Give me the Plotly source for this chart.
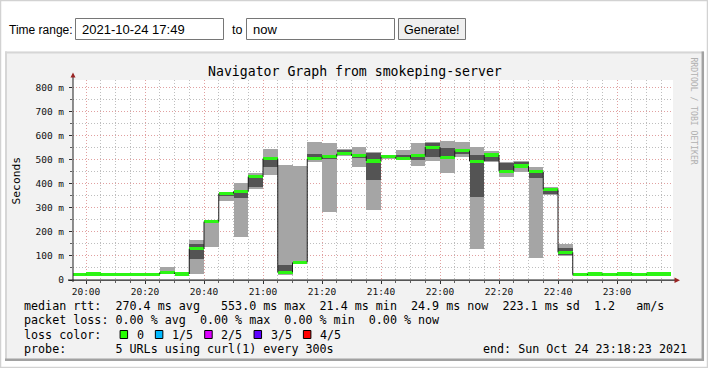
import plotly.graph_objects as go
import pandas as pd

# ---------------- data (ms) ----------------
day = "2021-10-24 "
slot_times = ["19:55", "20:00", "20:05", "20:10", "20:15", "20:20", "20:25", "20:30",
              "20:35", "20:40", "20:45", "20:50", "20:55", "21:00", "21:05", "21:10",
              "21:15", "21:20", "21:25", "21:30", "21:35", "21:40", "21:45", "21:50",
              "21:55", "22:00", "22:05", "22:10", "22:15", "22:20", "22:25", "22:30",
              "22:35", "22:40", "22:45", "22:50", "22:55", "23:00", "23:05", "23:10",
              "23:15"]
end_time = "23:18:23"

rtt_min = [21, 22, 21, 21, 21, 21, 27, 22, 25, 139, 330, 180, 380, 437, 21, 70,
           492, 284, 516, 469, 291, 504, 499, 474, 496, 446, 510, 128, 492, 430, 451, 93,
           355, 101, 19, 22, 20, 22, 20, 22, 22]
rtt_p2 = [23, 23, 23, 23, 23, 23, 28, 24, 89, 236, 349, 342, 386, 471, 26, 71,
          498, 505, 520, 508, 416, 508, 503, 499, 510, 507, 524, 347, 496, 444, 466, 423,
          357, 106, 20, 24, 22, 24, 22, 24, 24]
rtt_med = [24, 25, 24, 24, 24, 24, 31, 25, 130, 243, 360, 368, 430, 505, 32, 73,
           504, 513, 525, 517, 495, 512, 505, 518, 553, 511, 538, 494, 520, 452, 474, 451,
           377, 115, 21.4, 25, 23, 25, 23, 25, 24.9]
rtt_p4 = [25, 28, 25, 25, 25, 25, 35, 26, 148, 246, 364, 374, 434, 510, 62, 76,
          524, 522, 541, 524, 530, 516, 520, 522, 570, 550, 541, 519, 526, 488, 492, 458,
          383, 134, 23, 26, 24, 26, 24, 26, 26]
rtt_max = [27, 33, 27, 27, 27, 27, 54, 28, 166, 250, 367, 405, 446, 546, 478, 474,
           574, 569, 544, 553, 534, 520, 541, 569, 574, 579, 574, 553, 537, 490, 495, 472,
           388, 148, 25, 28, 26, 28, 26, 28, 28]

y_tick_vals = [0, 100, 200, 300, 400, 500, 600, 700, 800]
y_tick_text = ["0", "100 m", "200 m", "300 m", "400 m", "500 m", "600 m", "700 m", "800 m"]
y_minor_vals = [50, 150, 250, 350, 450, 550, 650, 750]
x_tick_text = ["20:00", "20:20", "20:40", "21:00", "21:20", "21:40", "22:00", "22:20",
               "22:40", "23:00"]

stats_rtt = ["270.4 ms avg", "553.0 ms max", "21.4 ms min", "24.9 ms now", "223.1 ms sd",
             "1.2", "am/s"]
stats_loss = ["0.00 % avg", "0.00 % max", "0.00 % min", "0.00 % now"]
loss_labels = ["0", "1/5", "2/5", "3/5", "4/5"]
loss_colors = ["#26ff00", "#00b8ff", "#dd00ff", "#5e00ff", "#ff0000"]
probe_text = "5 URLs using curl(1) every 300s"
end_text = "end: Sun Oct 24 23:18:23 2021"
title_text = "Navigator Graph from smokeping-server"

# ---------------- geometry ----------------
W, H = 708, 368
L, T, PW, PH = 73, 80, 600, 200
PX_PER_MIN = 2.95
X20 = 86  # pixel of 20:00


def px(x):
    return (x - L) / PW


def py(y):
    return 1 - (y - T) / PH


t20 = pd.Timestamp(day + "20:00")
x_range = [t20 - pd.Timedelta(minutes=(X20 - L) / PX_PER_MIN),
           t20 + pd.Timedelta(minutes=(L + PW - X20) / PX_PER_MIN)]

starts = [pd.Timestamp(day + t) for t in slot_times]
ends = starts[1:] + [pd.Timestamp(day + end_time)]
centers = [s + (e - s) / 2 for s, e in zip(starts, ends)]
widths = [(e - s).total_seconds() * 1000 for s, e in zip(starts, ends)]
x_ticks = [pd.Timestamp(day + t) for t in x_tick_text]

LIGHT = "#a5a5a5"
DARK = "#545454"
GREEN = "#2cf514"
D = 6.5  # half thickness of loss-colour band (ms)

fig = go.Figure()
fig.add_trace(go.Bar(x=centers, base=rtt_min, y=[b - a for a, b in zip(rtt_min, rtt_max)],
                     width=widths, marker=dict(color=LIGHT, line=dict(width=0)),
                     hoverinfo="skip"))
fig.add_trace(go.Bar(x=centers, base=rtt_p2, y=[b - a for a, b in zip(rtt_p2, rtt_p4)],
                     width=widths, marker=dict(color=DARK, line=dict(width=0)),
                     hoverinfo="skip"))
fig.add_trace(go.Bar(x=centers, base=[m - D for m in rtt_med], y=[2 * D] * len(rtt_med),
                     width=widths, marker=dict(color=GREEN, line=dict(width=0)),
                     hoverinfo="skip"))
# vertical connectors of the median step line (horizontal parts lie under the green band)
step_x, step_y = [], []
for i in range(1, len(starts)):
    step_x += [starts[i], starts[i], None]
    step_y += [rtt_med[i - 1], rtt_med[i], None]
fig.add_trace(go.Scatter(x=step_x, y=step_y, mode="lines", connectgaps=False,
                         line=dict(color="#1e1e1e", width=1), hoverinfo="skip"))

MONO = "DejaVu Sans Mono, monospace"
SANS = "Liberation Sans, Arial, sans-serif"
MAJ = "rgba(225,160,160,1)"
MIN = "rgba(190,190,190,1)"
DOTS = "1px,2px"

fig.update_layout(
    width=W, height=H, margin=dict(l=L, r=W - L - PW, t=T, b=H - T - PH, pad=0),
    paper_bgcolor="white", plot_bgcolor="white", showlegend=False,
    barmode="overlay", bargap=0,
    xaxis=dict(type="date", range=x_range, tickmode="array", tickvals=x_ticks,
               ticktext=x_tick_text, showgrid=True, gridcolor=MAJ, griddash=DOTS,
               gridwidth=1, zeroline=False, showline=False, ticks="outside", ticklen=3,
               tickcolor="#303030", tickfont=dict(family=MONO, size=9.5, color="#111"),
               minor=dict(tickmode="array", tickvals=starts, showgrid=True, gridcolor=MIN,
                          griddash=DOTS, gridwidth=1, ticks="outside", ticklen=2,
                          tickcolor="#606060"),
               fixedrange=True),
    yaxis=dict(range=[0, PH * 100 / 24.04], tickmode="array", tickvals=y_tick_vals,
               ticktext=y_tick_text, showgrid=True, gridcolor=MAJ, griddash=DOTS,
               gridwidth=1, zeroline=False, showline=False, ticks="outside", ticklen=3,
               tickcolor="#303030", tickfont=dict(family=MONO, size=9.5, color="#111"),
               ticklabelstandoff=3,
               minor=dict(tickmode="array", tickvals=y_minor_vals, showgrid=True,
                          gridcolor=MIN, griddash=DOTS, gridwidth=1, ticks="outside",
                          ticklen=2, tickcolor="#606060"),
               fixedrange=True),
)

shapes = []


def rect(x0, y0, x1, y1, fill=None, line=None, lw=1, layer="below"):
    shapes.append(dict(type="rect", xref="paper", yref="paper", x0=px(x0), x1=px(x1),
                       y0=py(y0), y1=py(y1), fillcolor=fill or "rgba(0,0,0,0)",
                       line=dict(color=line or "rgba(0,0,0,0)", width=lw if line else 0),
                       layer=layer))


def seg(x0, y0, x1, y1, color, lw=1, layer="above"):
    shapes.append(dict(type="line", xref="paper", yref="paper", x0=px(x0), x1=px(x1),
                       y0=py(y0), y1=py(y1), line=dict(color=color, width=lw), layer=layer))


def tri(pts, color):
    path = "M " + " L ".join(f"{px(a)},{py(b)}" for a, b in pts) + " Z"
    shapes.append(dict(type="path", xref="paper", yref="paper", path=path,
                       fillcolor=color, line=dict(width=0), layer="above"))


# page border
rect(0.5, 0.5, 707.5, 367.5, line="#d2d2d2", lw=1.5)
# graph image background and frame
rect(5, 51.5, 704, 361, fill="#f2f2f2")
seg(5, 52.5, 704, 52.5, "#d6d6d6", 2, "below")
seg(6, 51.5, 6, 361, "#d6d6d6", 2, "below")
seg(702.8, 51.5, 702.8, 361, "#a2a2a2", 2.5, "below")
seg(5, 359.8, 704, 359.8, "#a2a2a2", 2.5, "below")
# canvas
rect(L, T, L + PW, T + PH, fill="white")
# axes
seg(73, 282, 73, 77, "#202020", 1)
seg(68, 280.2, 675, 280.2, "#202020", 1.2)
tri([(70.5, 77.5), (75.5, 77.5), (73, 72.5)], "#9a2424")
tri([(674.5, 277.5), (674.5, 283), (680, 280.2)], "#9a2424")

# form elements
rect(75.5, 18.5, 223.5, 39.5, fill="white", line="#767676", lw=1)
rect(246.5, 18.5, 394.5, 39.5, fill="white", line="#767676", lw=1)
rect(398.5, 18.5, 465.5, 39.5, fill="#efefef", line="#767676", lw=1)

annotations = []


def text(x, y, s, size, family=MONO, xanchor="left", color="#000", angle=0):
    annotations.append(dict(xref="paper", yref="paper", x=px(x), y=py(y), text=s,
                            showarrow=False, xanchor=xanchor, yanchor="middle",
                            font=dict(family=family, size=size, color=color),
                            textangle=angle))


text(7, 29.5, "Time range:", 12, SANS)
text(79.5, 29.5, "2021-10-24 17:49", 13, SANS)
text(230, 29.5, "to", 12.5, SANS)
text(250.5, 29.5, "now", 13, SANS)
text(432, 29.5, "Generate!", 12.5, SANS, xanchor="center")

text(354.5, 71.5, title_text, 13.2, xanchor="center")
text(15.5, 180, "Seconds", 11.3, xanchor="center", angle=-90)
text(694, 110.5, "RRDTOOL / TOBI OETIKER", 8.1, xanchor="center", color="#b0b0b0",
     angle=90)

NB = "\u00a0"
CW = 7.05
X0 = 21.8
row1 = ("median rtt:" + NB * 2 + stats_rtt[0] + NB * 3 + stats_rtt[1] + NB * 2 +
        stats_rtt[2] + NB * 2 + stats_rtt[3] + NB * 2 + stats_rtt[4] + NB * 2 +
        stats_rtt[5] + NB * 3 + stats_rtt[6])
row2 = "packet loss:" + NB + (NB * 2).join(stats_loss)
row4 = "probe:" + NB * 7 + probe_text
LEG = 11.7
text(X0, 305.5, row1, LEG)
text(X0, 320, row2, LEG)
text(X0, 334.5, "loss color:", LEG)
label_cols = [16, 21, 28, 35, 42]
for lab, col, c in zip(loss_labels, label_cols, loss_colors):
    lx = X0 + col * CW
    rect(lx - 14.5, 330.5, lx - 7, 338.5, fill=c, line="#000000", lw=1, layer="above")
    text(lx, 334.5, lab, LEG)
text(X0, 349, row4, LEG)
text(689, 349, end_text, LEG, xanchor="right")

fig.update_layout(shapes=shapes, annotations=annotations)
fig.write_html("out.html", config={"displayModeBar": False},
               post_script="document.body.style.margin='0';"
                           "document.body.style.overflow='hidden';")
